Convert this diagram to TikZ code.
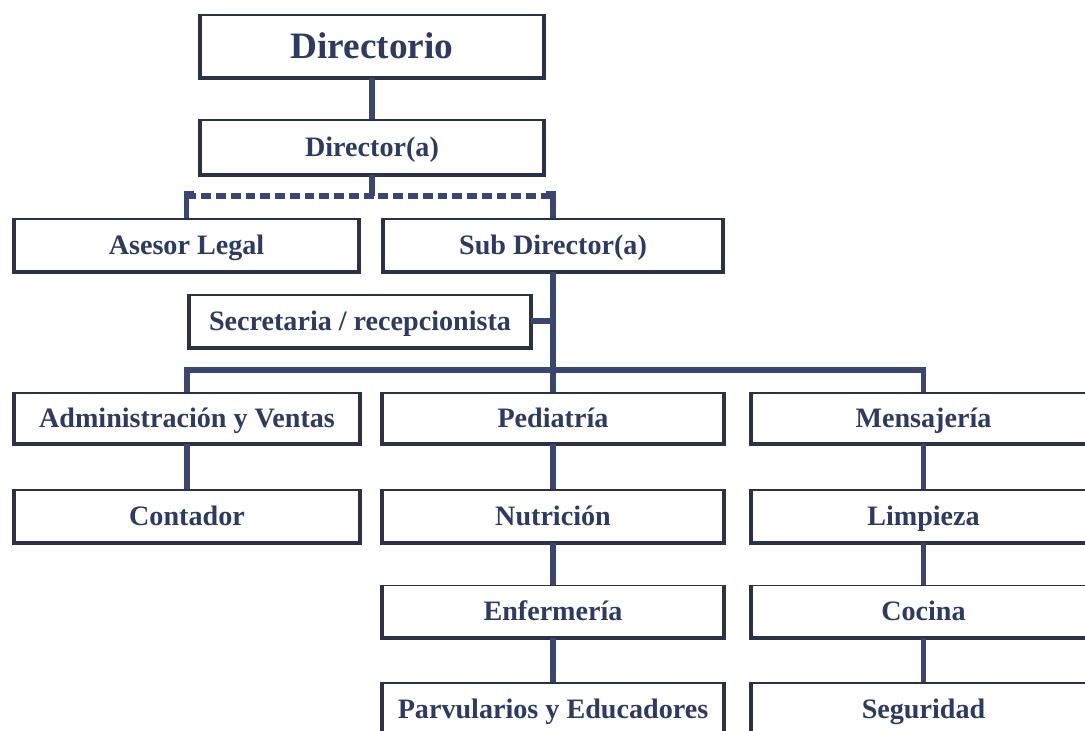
\documentclass[tikz,border=0pt]{standalone}
\usepackage{fontspec}
\setmainfont{Liberation Serif}
\definecolor{borde}{HTML}{2C3145}
\definecolor{conector}{HTML}{3A4670}
\definecolor{letra}{HTML}{2E3A60}

\tikzset{
  caja/.style={draw=borde, line width=1.2pt, fill=white, rectangle, inner sep=0pt,
    minimum height=1.3cm, text=letra, text height=13pt, text depth=0pt,
    font=\bfseries\fontsize{20}{23}\selectfont},
  colizq/.style={caja, minimum width=8.6cm},
  colmed/.style={caja, minimum width=8.5cm},
  colder/.style={caja, minimum width=8.575cm},
  linea/.style={draw=conector, line width=4.2pt},
  sombra/.style={draw=borde, line width=3pt}
}

\begin{document}
\begin{tikzpicture}[x=0.025cm, y=-0.025cm]
\useasboundingbox (0,0) rectangle (1085,730);

% cabeza
\node[caja, minimum width=8.55cm, minimum height=1.55cm, text height=17.5pt,
  font=\bfseries\fontsize{26.5}{30}\selectfont] (directorio) at (372,46) {Directorio};
\node[caja, minimum width=8.55cm, minimum height=1.35cm] (director) at (372,147) {Director(a)};
\node[caja, minimum width=8.575cm] (asesor) at (186.5,245) {Asesor Legal};
\node[caja, minimum width=8.45cm] (subdir) at (553,245) {Sub Director(a)};
\node[caja, minimum width=8.5cm] (secretaria) at (360,321) {Secretaria / recepcionista};

% columnas
\node[colizq, minimum height=1.25cm] (admin) at (187,418) {Administración y Ventas};
\node[colizq] (contador) at (187,516) {Contador};

\node[colmed, minimum height=1.25cm] (pediatria) at (553,418) {Pediatría};
\node[colmed] (nutricion) at (553,516) {Nutrición};
\node[colmed] (enfermeria) at (553,611.5) {Enfermería};
\node[colmed] (parvularios) at (553,709) {Parvularios y Educadores};

\node[colder, minimum height=1.25cm] (mensajeria) at (923.5,418) {Mensajería};
\node[colder] (limpieza) at (923.5,516) {Limpieza};
\node[colder] (cocina) at (923.5,611.5) {Cocina};
\node[colder] (seguridad) at (923.5,709) {Seguridad};

\foreach \n in {directorio,director,asesor,subdir,secretaria,admin,contador,
    pediatria,nutricion,enfermeria,parvularios,mensajeria,limpieza,cocina,seguridad}
  \draw[sombra] (\n.north west) -- (\n.south west) -- (\n.south east) -- (\n.north east);

% conectores
\coordinate (asesoria) at (372,196);
\coordinate (bus) at (553,370);

\draw[linea] (directorio.south) -- (director.north);
\draw[linea] (director.south) -- (asesoria);
\draw[linea, dash pattern=on 7pt off 3.5pt] (asesor.north |- asesoria) -- (subdir.north |- asesoria);
\draw[linea, line join=miter] (asesor.north) -- ++(0,-24) -- ++(7,0);
\draw[linea, line join=miter] (subdir.north) -- ++(0,-24) -- ++(-7,0);

\draw[linea] (subdir.south) -- (pediatria.north);
\draw[linea] (secretaria.east) -- (secretaria.east -| subdir.south);
\draw[linea, line join=miter] (admin.north) -- (admin.north |- bus)
  -- (mensajeria.north |- bus) -- (mensajeria.north);

\draw[linea] (admin.south) -- (contador.north);
\draw[linea] (pediatria.south) -- (nutricion.north);
\draw[linea] (nutricion.south) -- (enfermeria.north);
\draw[linea] (enfermeria.south) -- (parvularios.north);
\draw[linea] (mensajeria.south) -- (limpieza.north);
\draw[linea] (limpieza.south) -- (cocina.north);
\draw[linea] (cocina.south) -- (seguridad.north);

\end{tikzpicture}
\end{document}
